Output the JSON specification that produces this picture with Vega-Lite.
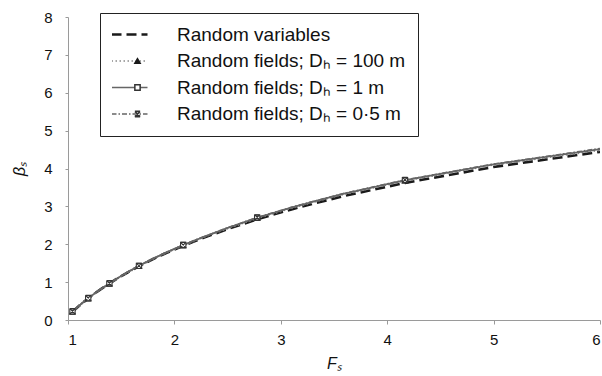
{
  "$schema": "https://vega.github.io/schema/vega-lite/v6.json",
  "width": 532,
  "height": 303,
  "autosize": {"type": "none"},
  "padding": {"left": 68, "top": 17, "right": 2, "bottom": 56},
  "background": "white",
  "config": {
    "view": {"stroke": null},
    "font": "Liberation Sans",
    "axis": {
      "grid": false,
      "domainColor": "#9a9a9a",
      "tickColor": "#9a9a9a",
      "labelFont": "Liberation Sans",
      "labelFontSize": 15,
      "labelColor": "#111",
      "titleFont": "Liberation Sans",
      "titleFontSize": 16,
      "titleFontWeight": "normal",
      "titleColor": "#111"
    }
  },
  "datasets": {
    "curves": [
      {"s": "Random variables", "F": 1.042, "b": 0.22, "m": false},
      {"s": "Random variables", "F": 1.087, "b": 0.33, "m": false},
      {"s": "Random variables", "F": 1.136, "b": 0.45, "m": false},
      {"s": "Random variables", "F": 1.19, "b": 0.57, "m": false},
      {"s": "Random variables", "F": 1.25, "b": 0.70, "m": false},
      {"s": "Random variables", "F": 1.316, "b": 0.83, "m": false},
      {"s": "Random variables", "F": 1.389, "b": 0.96, "m": false},
      {"s": "Random variables", "F": 1.471, "b": 1.11, "m": false},
      {"s": "Random variables", "F": 1.563, "b": 1.26, "m": false},
      {"s": "Random variables", "F": 1.667, "b": 1.42, "m": false},
      {"s": "Random variables", "F": 1.786, "b": 1.59, "m": false},
      {"s": "Random variables", "F": 1.923, "b": 1.77, "m": false},
      {"s": "Random variables", "F": 2.083, "b": 1.96, "m": false},
      {"s": "Random variables", "F": 2.273, "b": 2.17, "m": false},
      {"s": "Random variables", "F": 2.5, "b": 2.40, "m": false},
      {"s": "Random variables", "F": 2.778, "b": 2.66, "m": false},
      {"s": "Random variables", "F": 3.125, "b": 2.94, "m": false},
      {"s": "Random variables", "F": 3.571, "b": 3.26, "m": false},
      {"s": "Random variables", "F": 4.167, "b": 3.62, "m": false},
      {"s": "Random variables", "F": 5.0, "b": 4.04, "m": false},
      {"s": "Random variables", "F": 6.0, "b": 4.44, "m": false},

      {"s": "Random fields; Dₕ = 100 m", "F": 1.042, "b": 0.22, "m": true},
      {"s": "Random fields; Dₕ = 100 m", "F": 1.087, "b": 0.33, "m": false},
      {"s": "Random fields; Dₕ = 100 m", "F": 1.136, "b": 0.45, "m": false},
      {"s": "Random fields; Dₕ = 100 m", "F": 1.19, "b": 0.57, "m": true},
      {"s": "Random fields; Dₕ = 100 m", "F": 1.25, "b": 0.70, "m": false},
      {"s": "Random fields; Dₕ = 100 m", "F": 1.316, "b": 0.83, "m": false},
      {"s": "Random fields; Dₕ = 100 m", "F": 1.389, "b": 0.96, "m": true},
      {"s": "Random fields; Dₕ = 100 m", "F": 1.471, "b": 1.11, "m": false},
      {"s": "Random fields; Dₕ = 100 m", "F": 1.563, "b": 1.26, "m": false},
      {"s": "Random fields; Dₕ = 100 m", "F": 1.667, "b": 1.42, "m": true},
      {"s": "Random fields; Dₕ = 100 m", "F": 1.786, "b": 1.60, "m": false},
      {"s": "Random fields; Dₕ = 100 m", "F": 1.923, "b": 1.78, "m": false},
      {"s": "Random fields; Dₕ = 100 m", "F": 2.083, "b": 1.97, "m": true},
      {"s": "Random fields; Dₕ = 100 m", "F": 2.273, "b": 2.19, "m": false},
      {"s": "Random fields; Dₕ = 100 m", "F": 2.5, "b": 2.42, "m": false},
      {"s": "Random fields; Dₕ = 100 m", "F": 2.778, "b": 2.69, "m": true},
      {"s": "Random fields; Dₕ = 100 m", "F": 3.125, "b": 2.98, "m": false},
      {"s": "Random fields; Dₕ = 100 m", "F": 3.571, "b": 3.31, "m": false},
      {"s": "Random fields; Dₕ = 100 m", "F": 4.167, "b": 3.68, "m": true},
      {"s": "Random fields; Dₕ = 100 m", "F": 5.0, "b": 4.10, "m": false},
      {"s": "Random fields; Dₕ = 100 m", "F": 6.0, "b": 4.49, "m": false},

      {"s": "Random fields; Dₕ = 1 m", "F": 1.042, "b": 0.22, "m": true},
      {"s": "Random fields; Dₕ = 1 m", "F": 1.087, "b": 0.33, "m": false},
      {"s": "Random fields; Dₕ = 1 m", "F": 1.136, "b": 0.45, "m": false},
      {"s": "Random fields; Dₕ = 1 m", "F": 1.19, "b": 0.57, "m": true},
      {"s": "Random fields; Dₕ = 1 m", "F": 1.25, "b": 0.70, "m": false},
      {"s": "Random fields; Dₕ = 1 m", "F": 1.316, "b": 0.83, "m": false},
      {"s": "Random fields; Dₕ = 1 m", "F": 1.389, "b": 0.96, "m": true},
      {"s": "Random fields; Dₕ = 1 m", "F": 1.471, "b": 1.11, "m": false},
      {"s": "Random fields; Dₕ = 1 m", "F": 1.563, "b": 1.27, "m": false},
      {"s": "Random fields; Dₕ = 1 m", "F": 1.667, "b": 1.43, "m": true},
      {"s": "Random fields; Dₕ = 1 m", "F": 1.786, "b": 1.60, "m": false},
      {"s": "Random fields; Dₕ = 1 m", "F": 1.923, "b": 1.78, "m": false},
      {"s": "Random fields; Dₕ = 1 m", "F": 2.083, "b": 1.98, "m": true},
      {"s": "Random fields; Dₕ = 1 m", "F": 2.273, "b": 2.19, "m": false},
      {"s": "Random fields; Dₕ = 1 m", "F": 2.5, "b": 2.43, "m": false},
      {"s": "Random fields; Dₕ = 1 m", "F": 2.778, "b": 2.70, "m": true},
      {"s": "Random fields; Dₕ = 1 m", "F": 3.125, "b": 2.99, "m": false},
      {"s": "Random fields; Dₕ = 1 m", "F": 3.571, "b": 3.32, "m": false},
      {"s": "Random fields; Dₕ = 1 m", "F": 4.167, "b": 3.69, "m": true},
      {"s": "Random fields; Dₕ = 1 m", "F": 5.0, "b": 4.11, "m": false},
      {"s": "Random fields; Dₕ = 1 m", "F": 6.0, "b": 4.51, "m": false},

      {"s": "Random fields; Dₕ = 0·5 m", "F": 1.042, "b": 0.23, "m": true},
      {"s": "Random fields; Dₕ = 0·5 m", "F": 1.087, "b": 0.34, "m": false},
      {"s": "Random fields; Dₕ = 0·5 m", "F": 1.136, "b": 0.46, "m": false},
      {"s": "Random fields; Dₕ = 0·5 m", "F": 1.19, "b": 0.58, "m": true},
      {"s": "Random fields; Dₕ = 0·5 m", "F": 1.25, "b": 0.71, "m": false},
      {"s": "Random fields; Dₕ = 0·5 m", "F": 1.316, "b": 0.84, "m": false},
      {"s": "Random fields; Dₕ = 0·5 m", "F": 1.389, "b": 0.97, "m": true},
      {"s": "Random fields; Dₕ = 0·5 m", "F": 1.471, "b": 1.12, "m": false},
      {"s": "Random fields; Dₕ = 0·5 m", "F": 1.563, "b": 1.27, "m": false},
      {"s": "Random fields; Dₕ = 0·5 m", "F": 1.667, "b": 1.43, "m": true},
      {"s": "Random fields; Dₕ = 0·5 m", "F": 1.786, "b": 1.61, "m": false},
      {"s": "Random fields; Dₕ = 0·5 m", "F": 1.923, "b": 1.79, "m": false},
      {"s": "Random fields; Dₕ = 0·5 m", "F": 2.083, "b": 1.98, "m": true},
      {"s": "Random fields; Dₕ = 0·5 m", "F": 2.273, "b": 2.20, "m": false},
      {"s": "Random fields; Dₕ = 0·5 m", "F": 2.5, "b": 2.44, "m": false},
      {"s": "Random fields; Dₕ = 0·5 m", "F": 2.778, "b": 2.71, "m": true},
      {"s": "Random fields; Dₕ = 0·5 m", "F": 3.125, "b": 3.00, "m": false},
      {"s": "Random fields; Dₕ = 0·5 m", "F": 3.571, "b": 3.33, "m": false},
      {"s": "Random fields; Dₕ = 0·5 m", "F": 4.167, "b": 3.70, "m": true},
      {"s": "Random fields; Dₕ = 0·5 m", "F": 5.0, "b": 4.12, "m": false},
      {"s": "Random fields; Dₕ = 0·5 m", "F": 6.0, "b": 4.53, "m": false}
    ]
  },
  "data": {"name": "curves"},
  "encoding": {
    "x": {
      "field": "F", "type": "quantitative",
      "scale": {"domain": [1, 6], "nice": false, "zero": false},
      "axis": {"values": [1, 2, 3, 4, 5, 6], "title": "Fₛ", "titleFontStyle": "italic", "tickSize": 4, "labelPadding": 8, "titlePadding": 8}
    },
    "y": {
      "field": "b", "type": "quantitative",
      "scale": {"domain": [0, 8], "nice": false},
      "axis": {"values": [0, 1, 2, 3, 4, 5, 6, 7, 8], "title": "βₛ", "titleFontStyle": "italic", "tickSize": 3, "labelPadding": 13, "titlePadding": 16}
    }
  },
  "layer": [
    {
      "mark": {"type": "line", "clip": true},
      "encoding": {
        "detail": {"field": "s"},
        "strokeDash": {
          "field": "s", "type": "nominal",
          "sort": ["Random variables", "Random fields; Dₕ = 100 m", "Random fields; Dₕ = 1 m", "Random fields; Dₕ = 0·5 m"],
          "scale": {"range": [[10, 5], [1.5, 2.5], [1, 0], [5, 2, 1.5, 2]]},
          "legend": {
            "title": null, "orient": "none", "legendX": 32, "legendY": -4,
            "padding": 12, "strokeColor": "#222", "symbolType": "stroke",
            "symbolSize": 1296, "symbolOffset": 8, "clipHeight": 19, "rowPadding": 6.5,
            "labelFontSize": 19, "labelFont": "Liberation Sans", "labelColor": "#111",
            "labelOffset": 38, "labelLimit": 400,
            "encode": {
              "symbols": {
                "update": {
                  "stroke": {"signal": "datum.value === 'Random variables' ? '#1a1a1a' : (datum.value === 'Random fields; Dₕ = 100 m' ? '#8a8a8a' : '#666666')"},
                  "strokeWidth": {"signal": "datum.value === 'Random variables' ? 2.6 : 1.4"}
                }
              }
            }
          }
        },
        "color": {
          "field": "s", "type": "nominal",
          "sort": ["Random variables", "Random fields; Dₕ = 100 m", "Random fields; Dₕ = 1 m", "Random fields; Dₕ = 0·5 m"],
          "scale": {"range": ["#1a1a1a", "#8a8a8a", "#666666", "#666666"]},
          "legend": null
        },
        "strokeWidth": {
          "field": "s", "type": "ordinal",
          "sort": ["Random variables", "Random fields; Dₕ = 100 m", "Random fields; Dₕ = 1 m", "Random fields; Dₕ = 0·5 m"],
          "scale": {"range": [2.6, 1.4, 1.3, 1.3]},
          "legend": null
        }
      }
    },
    {
      "transform": [{"filter": "datum.m"}],
      "mark": {"type": "point", "filled": true, "size": 28, "strokeWidth": 1.1, "opacity": 1},
      "encoding": {
        "shape": {
          "field": "s", "type": "nominal",
          "scale": {
            "domain": ["Random variables", "Random fields; Dₕ = 100 m", "Random fields; Dₕ = 1 m", "Random fields; Dₕ = 0·5 m"],
            "range": ["M0,0", "triangle-up", "square", "M-1,-1L1,1M1,-1L-1,1M-1,-1H1M-1,1H1"]
          },
          "legend": {
            "title": null, "orient": "none", "legendX": 48, "legendY": -4,
            "padding": 12, "strokeColor": null, "symbolSize": 28,
            "clipHeight": 19, "rowPadding": 6.5,
            "labelFontSize": 19, "labelExpr": "''", "labelOffset": 0,
            "zindex": 5
          }
        },
        "fill": {
          "field": "s", "type": "nominal",
          "scale": {
            "domain": ["Random variables", "Random fields; Dₕ = 100 m", "Random fields; Dₕ = 1 m", "Random fields; Dₕ = 0·5 m"],
            "range": ["transparent", "#1a1a1a", "#ffffff", "transparent"]
          }
        },
        "stroke": {
          "field": "s", "type": "nominal",
          "scale": {
            "domain": ["Random variables", "Random fields; Dₕ = 100 m", "Random fields; Dₕ = 1 m", "Random fields; Dₕ = 0·5 m"],
            "range": ["transparent", "#1a1a1a", "#333333", "#333333"]
          }
        }
      }
    }
  ]
}
